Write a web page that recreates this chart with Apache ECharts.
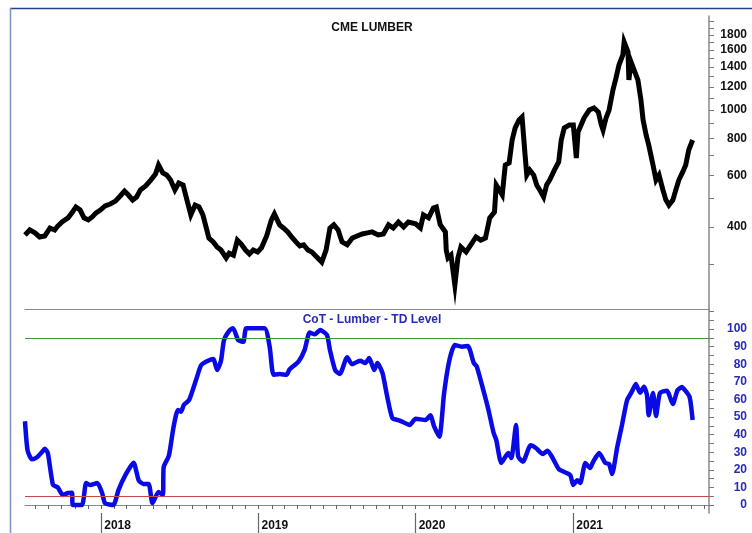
<!DOCTYPE html>
<html><head><meta charset="utf-8">
<script src="https://cdn.jsdelivr.net/npm/echarts@6/dist/echarts.min.js"></script>
<style>html,body{margin:0;padding:0;background:#fff}#c{width:752px;height:533px}</style>
</head><body><div id="c"></div>
<script>
const priceTitle = 'CME LUMBER';
const cotTitle = 'CoT - Lumber - TD Level';
const priceDates = ['2017-07-08','2017-07-19','2017-07-31','2017-08-11','2017-08-23','2017-09-04','2017-09-15','2017-09-22','2017-10-02','2017-10-16','2017-10-25','2017-11-03','2017-11-13','2017-11-22','2017-12-02','2017-12-11','2017-12-20','2017-12-30',
'2018-01-10','2018-01-22','2018-02-03','2018-02-14','2018-02-24','2018-03-05','2018-03-15','2018-03-24','2018-04-02','2018-04-14','2018-04-26','2018-05-07','2018-05-14','2018-05-24','2018-06-02','2018-06-11','2018-06-21','2018-06-30','2018-07-10','2018-07-19','2018-07-28','2018-08-07','2018-08-16','2018-08-25','2018-09-08','2018-09-18','2018-09-27','2018-10-06','2018-10-18','2018-10-25','2018-11-04','2018-11-13','2018-11-22','2018-12-02','2018-12-11','2018-12-20','2018-12-30',
'2019-01-08','2019-01-20','2019-01-31','2019-02-07','2019-02-19','2019-02-28','2019-03-10','2019-03-19','2019-03-29','2019-04-07','2019-04-16','2019-04-26','2019-05-05','2019-05-14','2019-05-28','2019-06-07','2019-06-16','2019-06-25','2019-07-05','2019-07-14','2019-07-26','2019-08-07','2019-08-18','2019-08-30','2019-09-11','2019-09-22','2019-10-06','2019-10-18','2019-10-30','2019-11-10','2019-11-22','2019-12-04','2019-12-15','2020-01-01',
'2020-01-12','2020-01-19','2020-01-31','2020-02-11','2020-02-18','2020-02-27','2020-03-10','2020-03-12','2020-03-16','2020-03-23','2020-04-01','2020-04-08','2020-04-15','2020-04-27','2020-05-08','2020-05-20','2020-05-31','2020-06-11','2020-06-21','2020-07-02','2020-07-06','2020-07-13','2020-07-20','2020-07-27','2020-08-05','2020-08-12','2020-08-19','2020-08-28','2020-09-04','2020-09-11','2020-09-15','2020-09-22','2020-10-01','2020-10-08','2020-10-15','2020-10-24','2020-10-31','2020-11-07','2020-11-18','2020-11-28','2020-12-04','2020-12-11','2020-12-23',
'2021-01-01','2021-01-08','2021-01-12','2021-01-19','2021-01-26','2021-02-07','2021-02-18','2021-02-28','2021-03-07','2021-03-11','2021-03-18','2021-03-25','2021-04-03','2021-04-10','2021-04-17','2021-04-26','2021-04-29','2021-05-08','2021-05-10','2021-05-15','2021-05-22','2021-05-31','2021-06-07','2021-06-12','2021-06-19','2021-06-25','2021-07-05','2021-07-12','2021-07-19','2021-07-28','2021-08-04','2021-08-11','2021-08-20','2021-08-27','2021-09-03','2021-09-12','2021-09-19','2021-09-26','2021-10-05'];
const priceValues = [376,391,382,370,373,397,391,403,416,430,447,468,457,430,423,433,447,457,
472,479,490,510,530,514,494,506,535,552,578,606,650,611,601,578,535,565,556,494,440,475,468,440,367,356,342,334,314,326,321,361,350,334,324,334,329,
340,373,423,443,407,397,385,370,356,345,348,334,329,319,304,334,397,407,391,356,348,367,373,379,382,385,376,379,407,397,416,400,416,410,
397,440,430,464,468,407,385,334,314,321,254,314,342,329,348,370,361,367,430,450,556,535,514,650,661,791,869,925,947,703,601,625,601,556,535,506,556,578,625,666,791,869,890,
890,687,842,890,940,1000,1016,985,890,855,940,1000,1170,1285,1423,1539,1704,1576,1265,1457,1369,1265,1082,925,823,761,650,578,601,535,494,475,494,535,578,616,650,731,791];

const cotDates = ['2017-07-08','2017-07-14','2017-07-24','2017-08-04','2017-08-16','2017-08-23','2017-08-30','2017-09-11','2017-09-22','2017-10-04','2017-10-16','2017-10-25','2017-10-27','2017-11-17','2017-11-27','2017-12-06','2017-12-23',
'2018-01-03','2018-01-10','2018-01-29','2018-02-10','2018-02-26','2018-03-17','2018-03-29','2018-04-09','2018-04-21','2018-04-30','2018-05-14','2018-05-24','2018-05-26','2018-06-07','2018-06-18','2018-06-28','2018-07-05','2018-07-12','2018-07-24','2018-08-09','2018-08-21','2018-09-06','2018-09-18','2018-09-27','2018-10-06','2018-10-13','2018-10-25','2018-11-03','2018-11-15','2018-11-27','2018-12-04',
'2019-01-15','2019-01-27','2019-02-05','2019-02-19','2019-03-07','2019-03-14','2019-04-04','2019-04-18','2019-04-30','2019-05-12','2019-05-24','2019-06-09','2019-06-16','2019-06-28','2019-07-09','2019-07-26','2019-08-06','2019-08-25','2019-09-06','2019-09-15','2019-09-27','2019-10-04','2019-10-16','2019-10-27','2019-11-08','2019-11-25','2019-12-18',
'2020-01-01','2020-01-24','2020-02-04','2020-02-13','2020-02-25','2020-03-07','2020-03-19','2020-04-01','2020-04-17','2020-05-01','2020-05-15','2020-05-22','2020-06-07','2020-06-18','2020-06-30','2020-07-06','2020-07-18','2020-08-03','2020-08-10','2020-08-21','2020-08-26','2020-09-06','2020-09-24','2020-10-06','2020-10-22','2020-11-02','2020-11-14','2020-11-28','2020-12-14','2020-12-25',
'2021-01-01','2021-01-10','2021-01-17','2021-01-29','2021-02-09','2021-02-16','2021-03-02','2021-03-16','2021-03-25','2021-04-01','2021-04-13','2021-04-24','2021-05-06','2021-05-17','2021-05-26','2021-06-05','2021-06-14','2021-06-21','2021-06-25','2021-07-05','2021-07-12','2021-07-21','2021-08-06','2021-08-20','2021-08-31','2021-09-10','2021-09-17','2021-09-28','2021-10-05'];
const cotValues = [47.6,31,26,27,30,32,29.5,11.4,10,5.7,6.8,7,0,0,12.5,11.4,12.5,
6.8,1,0,8.5,17,24,14,12,12,1,7.4,5.7,21.6,28,44.5,54,53,57,59.7,71,79.5,82,83,76.7,82,93.7,99,100.5,93.7,92.8,100.5,
100.5,90,74,74.5,74,77,81.5,88,98,97,99.4,96.6,88,76.7,74.5,84,80,82,80.7,83.5,76.7,80.7,75,61.5,49.4,48,45.5,
49,48.3,51,44.5,38.8,63.6,82,90.9,90,90.3,80.7,78.6,64.4,54,40.9,37,23.9,29.5,26.7,45.5,27.5,24.6,34,32.4,29,30.9,26.7,20.5,18.4,17,
11.4,14,12.5,23.9,21,24.6,29.5,24,23.3,17.6,33,45.5,59.7,64.4,68.8,63.8,67.2,62.5,51,63.6,50.6,63.6,65,57.4,65.3,67,65.3,61.4,48.3];

const priceTickLabels = [400,600,800,1000,1200,1400,1600,1800];
const cotTickLabels = [0,10,20,30,40,50,60,70,80,90,100];
const yearLabels = ['2018-01-01','2019-01-01','2020-01-01','2021-01-01'];
const cotUpper = 95, cotLower = 5;

const ts = s => { const p = s.split('-').map(Number); return Date.UTC(p[0], p[1]-1, p[2]); };
const X_MIN = ts('2017-07-08'), X_MAX = ts('2021-11-12');
const monthTicks = [];
for (let y = 2017; y <= 2021; y++) for (let m = 0; m < 12; m++) {
  const d = Date.UTC(y, m, 1);
  if (d > X_MIN && d < X_MAX) monthTicks.push(d);
}
const yearTicks = yearLabels.map(ts);
const priceMinorTicks = [];
for (let v = 300; v <= 2000; v += 100) priceMinorTicks.push(v);
const cotTicks = [];
for (let v = 0; v <= 110; v += 5) cotTicks.push(v);

const priceData = priceDates.map((d, i) => [ts(d), priceValues[i]]);
const cotData = cotDates.map((d, i) => [ts(d), cotValues[i]]);

const FONT = 'Liberation Sans, Arial, sans-serif';
const BLUE_TXT = '#2a2ab8';
const chart = echarts.init(document.getElementById('c'), null, {renderer: 'canvas'});
chart.setOption({
  animation: false,
  backgroundColor: '#fff',
  title: [
    {text: priceTitle, left: 367, top: 17, textAlign: 'center', textStyle: {fontFamily: FONT, fontSize: 12, fontWeight: 'bold', color: '#111'}},
    {text: cotTitle, left: 367, top: 309, textAlign: 'center', textStyle: {fontFamily: FONT, fontSize: 12, fontWeight: 'bold', color: BLUE_TXT}}
  ],
  grid: [
    {left: 25, right: 43, top: 16, height: 293},
    {left: 25, right: 43, top: 309, height: 204}
  ],
  xAxis: [
    {type: 'value', gridIndex: 0, min: X_MIN, max: X_MAX, axisLine: {show: true, lineStyle: {color: '#888', width: 1.2}}, axisTick: {show: false}, axisLabel: {show: false}, splitLine: {show: false}},
    {type: 'value', gridIndex: 1, min: X_MIN, max: X_MAX, axisLine: {show: true, lineStyle: {color: '#888', width: 1.2}},
      axisTick: {show: true, customValues: monthTicks, length: 4, lineStyle: {color: '#666'}}, axisLabel: {show: false}, splitLine: {show: false}},
    {type: 'value', gridIndex: 1, min: X_MIN, max: X_MAX, position: 'bottom', axisLine: {show: false},
      axisTick: {show: true, customValues: yearTicks, length: 20, lineStyle: {color: '#666', width: 1.2}},
      axisLabel: {show: true, customValues: yearTicks, align: 'left', padding: [0,0,0,3], margin: 7, fontFamily: FONT, fontSize: 12, fontWeight: 'bold', color: '#111',
        formatter: v => String(new Date(v).getUTCFullYear())}, splitLine: {show: false}}
  ],
  yAxis: [
    {type: 'log', gridIndex: 0, position: 'right', min: 210.5, max: 2089, axisLine: {show: true, lineStyle: {color: '#888', width: 1.5}},
      axisTick: {show: true, customValues: priceMinorTicks, length: 5, lineStyle: {color: '#777'}},
      axisLabel: {show: true, customValues: priceTickLabels, align: 'right', margin: 38, fontFamily: FONT, fontSize: 12, fontWeight: 'bold', color: '#111',
        formatter: v => String(Math.round(v))},
      splitLine: {show: false}},
    {type: 'value', gridIndex: 1, position: 'right', min: -4.55, max: 111.4, axisLine: {show: true, lineStyle: {color: '#888', width: 1.5}},
      axisTick: {show: true, customValues: cotTicks, length: 5, lineStyle: {color: '#777'}},
      axisLabel: {show: true, customValues: cotTickLabels, align: 'right', margin: 38, fontFamily: FONT, fontSize: 12, fontWeight: 'bold', color: BLUE_TXT},
      splitLine: {show: false}}
  ],
  series: [
    {type: 'line', xAxisIndex: 0, yAxisIndex: 0, data: priceData, symbol: 'none', lineStyle: {color: '#000', width: 5, join: 'miter'}},
    {type: 'line', xAxisIndex: 1, yAxisIndex: 1, data: cotData, symbol: 'none', smooth: 0.2, lineStyle: {color: '#0a0ae6', width: 4.5},
      markLine: {silent: true, symbol: 'none', label: {show: false},
        data: [{yAxis: cotUpper, lineStyle: {color: '#3c9a3c', width: 1, type: 'solid'}}, {yAxis: cotLower, lineStyle: {color: '#c84848', width: 1, type: 'solid'}}]}}
  ],
  graphic: [
    {type: 'line', shape: {x1: 10, y1: 8.5, x2: 752, y2: 8.5}, style: {stroke: '#23408c', lineWidth: 1.5}, silent: true},
    {type: 'line', shape: {x1: 10.5, y1: 8, x2: 10.5, y2: 533}, style: {stroke: '#7f8fc4', lineWidth: 1.5}, silent: true}
  ]
});
</script></body></html>
